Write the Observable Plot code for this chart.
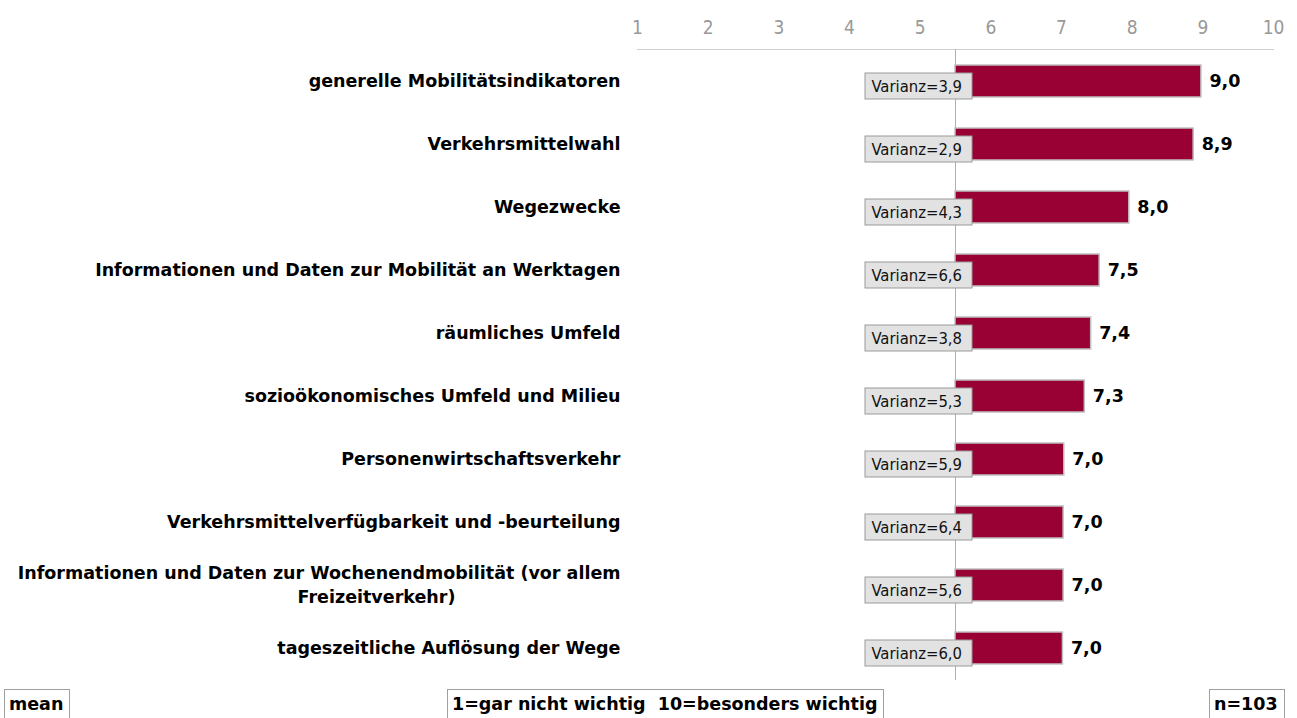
<!DOCTYPE html>
<html>
<head>
<meta charset="utf-8">
<script src="https://cdn.jsdelivr.net/npm/d3@7"></script>
<script src="https://cdn.jsdelivr.net/npm/@observablehq/plot@0.6"></script>
<style>
  body { margin: 0; background: #fff; }
  #chart { position: relative; width: 1297px; }
  #footer { position: relative; width: 1297px; height: 34px; }
  .fbox { position: absolute; top: 5px; height: 30px; box-sizing: border-box; border: 1px solid #a0a0a0;
          font-family: "DejaVu Sans", sans-serif; font-weight: bold; font-size: 17.5px; color: #000;
          line-height: 28px; white-space: pre; padding-left: 4px; background: #fff; }
</style>
</head>
<body>
<div id="chart"></div>
<div id="footer"></div>
<script>
const categories = [
  "generelle Mobilitätsindikatoren",
  "Verkehrsmittelwahl",
  "Wegezwecke",
  "Informationen und Daten zur Mobilität an Werktagen",
  "räumliches Umfeld",
  "sozioökonomisches Umfeld und Milieu",
  "Personenwirtschaftsverkehr",
  "Verkehrsmittelverfügbarkeit und -beurteilung",
  "Informationen und Daten zur Wochenendmobilität (vor allem\nFreizeitverkehr)",
  "tageszeitliche Auflösung der Wege"
];
const means = [8.98, 8.87, 7.96, 7.54, 7.42, 7.33, 7.04, 7.03, 7.03, 7.02];
const variances = [3.9, 2.9, 4.3, 6.6, 3.8, 5.3, 5.9, 6.4, 5.6, 6.0];
const ticks = [1, 2, 3, 4, 5, 6, 7, 8, 9, 10];
const baseline = 5.5;
const footerLeft = "mean";
const footerMiddle = "1=gar nicht wichtig  10=besonders wichtig";
const footerRight = "n=103";

const fmt = v => (Math.round(v * 10) / 10).toFixed(1).replace(".", ",");
const rows = categories.map((c, i) => {
  const lines = c.split("\n");
  return {cat: c, line1: lines[0], line2: lines[1] || null, mean: means[i], variance: variances[i]};
});
const single = rows.filter(d => !d.line2);
const multi = rows.filter(d => d.line2);

const bold = "DejaVu Sans, sans-serif";

const chart = Plot.plot({
  width: 1297,
  height: 684,
  marginLeft: 637,
  marginRight: 24,
  marginTop: 49,
  marginBottom: 4,
  x: {domain: [1, 10], label: null},
  y: {domain: categories, paddingInner: 0.5, paddingOuter: 0.25, axis: null},
  marks: [
    Plot.axisX({anchor: "top", ticks: ticks, tickSize: 0, tickPadding: 16, color: "#999999", label: null,
      fontFamily: "DejaVu Sans Condensed, DejaVu Sans, sans-serif", fontSize: 19, fontWeight: 300, tickFormat: d => String(d)}),
    Plot.frame({anchor: "top", stroke: "#cfcfcf", strokeWidth: 1.2}),
    Plot.ruleX([baseline], {stroke: "#b0b0b0"}),
    Plot.barX(rows, {x1: baseline, x2: "mean", y: "cat", fill: "#990033", stroke: "#c0c0c0", strokeWidth: 1.5}),
    Plot.barX(rows, {x1: baseline, x2: baseline, y: "cat", fill: "#e2e2e2", stroke: "#9a9a9a", strokeWidth: 1,
      insetLeft: -90, insetRight: -17, insetTop: 8, insetBottom: -2}),
    Plot.text(rows, {x: baseline, y: "cat", text: d => "Varianz=" + fmt(d.variance), textAnchor: "start", dx: -84, dy: 5.5,
      fontFamily: "DejaVu Sans Condensed, DejaVu Sans, sans-serif", fontSize: 16.5, fill: "#111"}),
    Plot.text(rows, {x: "mean", y: "cat", text: d => fmt(d.mean), textAnchor: "start", dx: 8,
      fontFamily: bold, fontWeight: "bold", fontSize: 17.5, fill: "#000"}),
    Plot.text(single, {y: "cat", text: "line1", frameAnchor: "left", textAnchor: "end", dx: -17,
      fontFamily: bold, fontWeight: "bold", fontSize: 17.5, fill: "#000"}),
    Plot.text(multi, {y: "cat", text: "line1", frameAnchor: "left", textAnchor: "end", dx: -17, dy: -12,
      fontFamily: bold, fontWeight: "bold", fontSize: 17.5, fill: "#000"}),
    Plot.text(multi, {y: "cat", text: "line2", frameAnchor: "left", textAnchor: "middle", dx: -261, dy: 12,
      fontFamily: bold, fontWeight: "bold", fontSize: 17.5, fill: "#000"})
  ]
});
document.getElementById("chart").appendChild(chart);

const footer = document.getElementById("footer");
[[footerLeft, 4, 66], [footerMiddle, 447, 437], [footerRight, 1209, 76]].forEach(([t, left, w]) => {
  const div = document.createElement("div");
  div.className = "fbox";
  div.style.left = left + "px";
  div.style.width = w + "px";
  div.textContent = t;
  footer.appendChild(div);
});
</script>
</body>
</html>
